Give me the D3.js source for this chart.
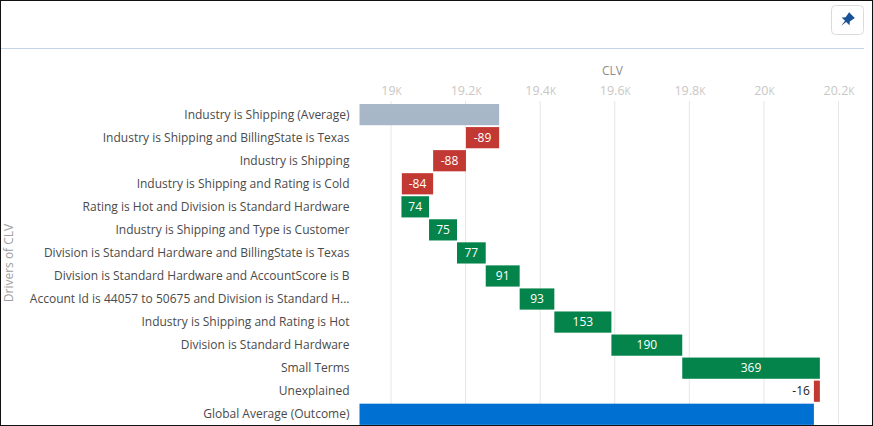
<!DOCTYPE html>
<html>
<head>
<meta charset="utf-8">
<script src="https://cdn.jsdelivr.net/npm/d3@7"></script>
<style>
  html, body { margin: 0; padding: 0; background: #fff; }
  svg { display: block; font-family: "Open Sans", sans-serif; }
</style>
</head>
<body>
<div id="chart"></div>
<script>
// Valori
const categories = [
  "Industry is Shipping (Average)",
  "Industry is Shipping and BillingState is Texas",
  "Industry is Shipping",
  "Industry is Shipping and Rating is Cold",
  "Rating is Hot and Division is Standard Hardware",
  "Industry is Shipping and Type is Customer",
  "Division is Standard Hardware and BillingState is Texas",
  "Division is Standard Hardware and AccountScore is B",
  "Account Id is 44057 to 50675 and Division is Standard H...",
  "Industry is Shipping and Rating is Hot",
  "Division is Standard Hardware",
  "Small Terms",
  "Unexplained",
  "Global Average (Outcome)"
];
const barStart = [18914, 19201, 19113, 19029, 19028, 19102, 19177, 19254, 19345, 19438, 19591, 19781, 20134, 18914];
const barEnd = [19290, 19290, 19201, 19113, 19102, 19177, 19254, 19345, 19438, 19591, 19781, 20150, 20150, 20134];
const barLabels = ["", "-89", "-88", "-84", "74", "75", "77", "91", "93", "153", "190", "369", "-16", ""];
const barKinds = ["start", "down", "down", "down", "up", "up", "up", "up", "up", "up", "up", "up", "down", "end"];
const tickValues = [19000, 19200, 19400, 19600, 19800, 20000, 20200];
const tickLabels = ["19", "19.2", "19.4", "19.6", "19.8", "20", "20.2"];

const width = 873;
const height = 426;
const colors = { start: "#a8b7c7", down: "#c23934", up: "#04844b", end: "#0070d2" };

const svg = d3.select("#chart")
  .append("svg")
  .attr("width", width)
  .attr("height", height);

// Scale
const x = d3.scaleLinear().domain([19000, 20200]).range([391, 838.5]);
const y = d3.scaleBand().domain(categories).range([103.1, 425.8]).paddingInner(0.08).paddingOuter(0.04);

// Griglia e tick in alto
const xAxis = d3.axisTop(x)
  .tickValues(tickValues)
  .tickFormat((d, i) => tickLabels[i])
  .tickSize(0)
  .tickPadding(0);

svg.append("g")
  .selectAll("line")
  .data(tickValues)
  .enter().append("line")
  .attr("x1", d => x(d))
  .attr("x2", d => x(d))
  .attr("y1", 101)
  .attr("y2", 424)
  .attr("stroke", "#e6e6e6")
  .attr("stroke-width", 1);

const axisG = svg.append("g")
  .attr("transform", "translate(0,95)")
  .call(xAxis);
axisG.select(".domain").remove();
axisG.selectAll("text")
  .attr("fill", "#c9c7c5")
  .style("font-size", "12.5px")
  .style("font-family", "'Open Sans', sans-serif");
// La K del riferimento e' un maiuscoletto
axisG.selectAll("text").append("tspan")
  .style("font-size", "10px")
  .text("K");

svg.append("text")
  .attr("x", 612.5)
  .attr("y", 75)
  .attr("text-anchor", "middle")
  .attr("fill", "#8c8c8c")
  .style("font-size", "12px")
  .text("CLV");

// Barre
const rows = categories.map((c, i) => ({
  name: c, start: barStart[i], end: barEnd[i], label: barLabels[i], kind: barKinds[i]
}));

svg.selectAll("rect.bar")
  .data(rows)
  .enter().append("rect")
  .attr("class", "bar")
  .attr("x", d => d.kind === "start" || d.kind === "end" ? 359.5 : x(d.start))
  .attr("y", d => y(d.name))
  .attr("width", d => x(d.end) - (d.kind === "start" || d.kind === "end" ? 359.5 : x(d.start)))
  .attr("height", y.bandwidth())
  .attr("fill", d => colors[d.kind]);

// Etichette delle barre (-16 sta fuori perche' la barra e' stretta)
svg.selectAll("text.value")
  .data(rows.filter(d => d.label))
  .enter().append("text")
  .attr("class", "value")
  .attr("x", d => d.label === "-16" ? x(d.start) - 4 : (x(d.start) + x(d.end)) / 2)
  .attr("y", d => y(d.name) + y.bandwidth() / 2)
  .attr("dy", "0.35em")
  .attr("text-anchor", d => d.label === "-16" ? "end" : "middle")
  .attr("fill", d => d.label === "-16" ? "#222" : "#fff")
  .style("font-size", "12px")
  .text(d => d.label);

// Categorie
svg.selectAll("text.cat")
  .data(rows)
  .enter().append("text")
  .attr("class", "cat")
  .attr("x", 349.5)
  .attr("y", d => y(d.name) + y.bandwidth() / 2)
  .attr("dy", "0.35em")
  .attr("text-anchor", "end")
  .attr("fill", "#4a4a4a")
  .style("font-size", "12px")
  .text(d => d.name);

svg.append("text")
  .attr("transform", "translate(13,263) rotate(-90)")
  .attr("text-anchor", "middle")
  .attr("fill", "#a0a0a0")
  .style("font-size", "12px")
  .text("Drivers of CLV");

// Intestazione: riga, bottone con puntina, cornice
svg.append("line")
  .attr("x1", 0).attr("x2", 864).attr("y1", 48.5).attr("y2", 48.5)
  .attr("stroke", "#c5d5e6");

svg.append("rect")
  .attr("x", 831.5).attr("y", 5.5).attr("width", 32).attr("height", 29).attr("rx", 4)
  .attr("fill", "#fff").attr("stroke", "#dddbda");

svg.append("path")
  .attr("transform", "translate(847,20) rotate(45)")
  .attr("d", "M-4,-7 H4 L3,-1 L5.5,2 H0.8 L0,8 L-0.8,2 H-5.5 L-3,-1 Z")
  .attr("fill", "#1b5297");

svg.append("rect")
  .attr("x", 0.5).attr("y", 0.5).attr("width", width - 1).attr("height", height - 1)
  .attr("fill", "none").attr("stroke", "#111");
</script>
</body>
</html>
